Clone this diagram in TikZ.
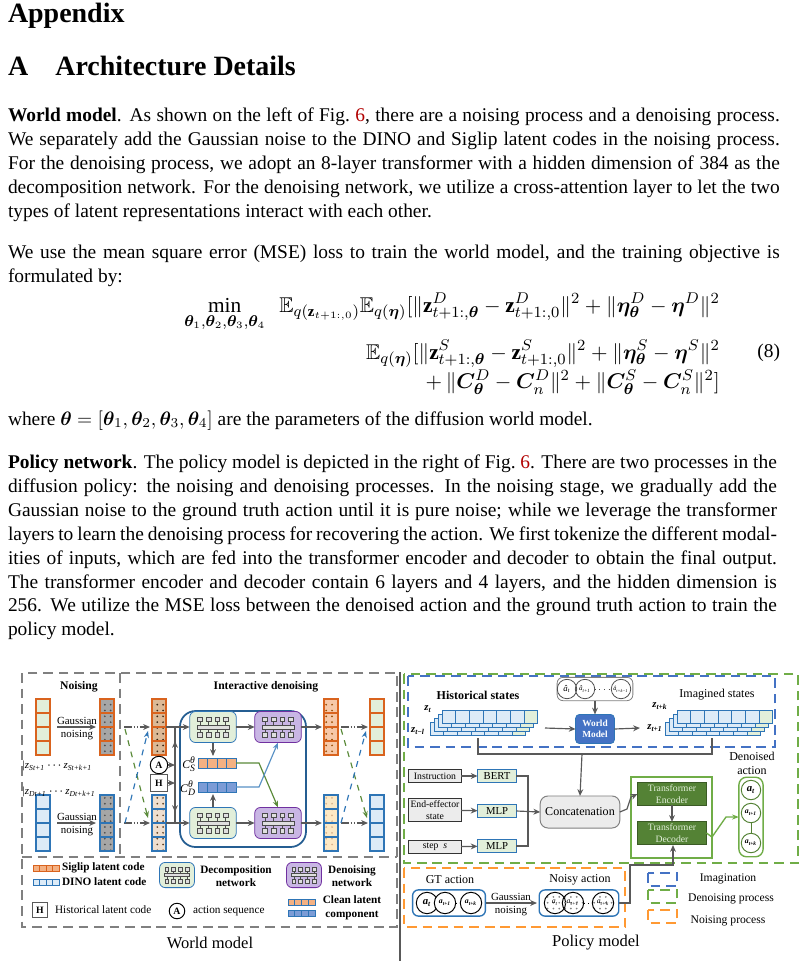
\documentclass[tikz,border=0pt]{standalone}
\usepackage{amsmath,amssymb,bm}
\usepackage{fontspec}
\setmainfont{Liberation Serif}
\usetikzlibrary{arrows.meta,patterns,fit,calc}
\definecolor{sor}{HTML}{D9631E}
\definecolor{sgr}{HTML}{E2EFDA}
\definecolor{dbl}{HTML}{2E75B6}
\definecolor{lbl}{HTML}{DDEBF7}
\definecolor{pur}{HTML}{7030A0}
\definecolor{lpur}{HTML}{C9B6E4}
\definecolor{dgr}{HTML}{548235}
\definecolor{mgr}{HTML}{70AD47}
\definecolor{wmb}{HTML}{4472C4}
\definecolor{orn}{HTML}{F4B183}
\newcommand\wcol[4]{\foreach \k in {0,...,3}{\draw[#4,fill=#3,line width=0.6pt] (#1,{#2+\k*14}) rectangle ++(14,14);}}
\newcommand\dcol[5]{\foreach \k in {0,...,3}{\fill[#3] (#1,{#2+\k*14}) rectangle ++(14,14);\fill[pattern=dots,pattern color=#5] (#1,{#2+\k*14}) rectangle ++(14,14);\draw[#4,line width=0.6pt] (#1,{#2+\k*14}) rectangle ++(14,14);}}
\newcommand\ssb[2]{#1\textsubscript{#2}}
\newcommand\ssp[3]{#1\makebox[0pt][l]{\textsuperscript{#2}}\textsubscript{#3}}
\tikzset{
 every node/.style={inner sep=0pt,outer sep=0pt},
 fig/.style={font=\fontsize{5.6}{6.4}\selectfont},
 arr/.style={-{Stealth[length=3.5pt,width=3pt]},gray!70!black,line width=0.6pt},
 ln/.style={gray!70!black,line width=0.6pt},
 net/.pic={
  \foreach \i in {-1.5,-0.5,0.5,1.5}{
   \draw[gray!60!black,line width=0.35pt] (\i*9,-7) -- (\i*9,7);
   \draw[gray!60!black,fill=gray!25,line width=0.35pt] (\i*9-2.5,-10.5) rectangle ++(5,5);
   \draw[gray!60!black,fill=gray!25,line width=0.35pt] (\i*9-2.5,5.5) rectangle ++(5,5);}
  \draw[gray!60!black,fill=gray!25,line width=0.35pt] (-17,-2) rectangle (17,2);},
 stk/.pic={
  \foreach \l in {3,2,1,0}{
   \foreach \k in {0,...,6}{
    \ifnum\k=6 \def\cc{sgr}\else\def\cc{lbl}\fi
    \draw[dbl,fill=\cc,line width=0.5pt] ({\k*13.7-\l*4},{\l*4}) rectangle ++(13.7,13);}}},
 ac/.style={circle,draw=black,line width=0.5pt,minimum size=11pt,fill=white,font=\fontsize{5.5}{5}\selectfont\bfseries\itshape},
 acs/.style={ac,font=\fontsize{4}{4}\selectfont\bfseries\itshape},
 nac/.style={circle,draw=black,line width=0.5pt,minimum size=11pt,pattern=dots,pattern color=gray,font=\fontsize{4}{4}\selectfont\itshape},
 bt/.style={font=\fontsize{10}{12.3}\selectfont},
}
\begin{document}
\begin{tikzpicture}[x=0.515pt,y=-0.515pt]
\useasboundingbox (0,0) rectangle (806,961);
\fill[white] (0,0) rectangle (806,961);
% ---------- text ----------
\node[anchor=base west,font=\fontsize{14.4}{16}\selectfont\bfseries] (h1) at (8,22) {Appendix};
\node[anchor=base west,font=\fontsize{14.4}{16}\selectfont\bfseries] (h2) at (8,75) {A\hspace{14pt}Architecture Details};
\node[anchor=north west,text width=397.5pt,align=justify,bt] (p1) at (8,108) {\textbf{World model}. As shown on the left of Fig.~\textcolor{red!70!black}{6}, there are a noising process and a denoising process. We separately add the Gaussian noise to the DINO and Siglip latent codes in the noising process. For the denoising process, we adopt an 8-layer transformer with a hidden dimension of 384 as the decomposition network. For the denoising network, we utilize a cross-attention layer to let the two types of latent representations interact with each other.\par\vspace{9pt}
We use the mean square error (MSE) loss to train the world model, and the training objective is formulated by:};
\node[anchor=north,font=\fontsize{11}{12}\selectfont] (eq) at (452,293) {$\begin{aligned}
\min_{\bm\theta_1,\bm\theta_2,\bm\theta_3,\bm\theta_4}\ \ \mathbb{E}_{q(\mathbf z_{t+1:,0})}\mathbb{E}_{q(\bm\eta)}[\|\mathbf z^D_{t+1:,\bm\theta}-\mathbf z^D_{t+1:,0}\|^2+\|\bm\eta^D_{\bm\theta}-\bm\eta^D\|^2&\\[0pt]
\mathbb{E}_{q(\bm\eta)}[\|\mathbf z^S_{t+1:,\bm\theta}-\mathbf z^S_{t+1:,0}\|^2+\|\bm\eta^S_{\bm\theta}-\bm\eta^S\|^2&\\[-3pt]
+\,\|\bm C^D_{\bm\theta}-\bm C^D_n\|^2+\|\bm C^S_{\bm\theta}-\bm C^S_n\|^2]&
\end{aligned}$};
\node[anchor=base east,bt] (tag) at (780,357) {(8)};
\node[anchor=base west,bt] (wh) at (8,425) {where $\bm\theta=[\bm\theta_1,\bm\theta_2,\bm\theta_3,\bm\theta_4]$ are the parameters of the diffusion world model.};
\node[anchor=north west,text width=396pt,align=justify,bt] (p3) at (8,455) {\textbf{Policy network}. The policy model is depicted in the right of Fig.~\textcolor{red!70!black}{6}. There are two processes in the diffusion policy: the noising and denoising processes. In the noising stage, we gradually add the Gaussian noise to the ground truth action until it is pure noise; while we leverage the transformer layers to learn the denoising process for recovering the action. We first tokenize the different modal\-ities of inputs, which are fed into the transformer encoder and decoder to obtain the final output.\linebreak The transformer encoder and decoder contain 6 layers and 4 layers, and the hidden dimension is 256. We utilize the MSE loss between the denoised action and the ground truth action to train the policy model.};
% ---------- world model ----------
\begin{scope}[fig]
\draw[gray,line width=0.6pt,dash pattern=on 5pt off 3pt] (22,673) rectangle (397,927);
\draw[gray,line width=0.6pt,dash pattern=on 5pt off 3pt] (22,857) -- (397,857);
\draw[gray,line width=0.6pt,dash pattern=on 5pt off 3pt] (120,673) -- (120,857);
\draw[gray!70!black,line width=0.8pt] (400,672) -- (400,961);
\node[font=\fontsize{6}{7}\selectfont\bfseries] (tn) at (79,687) {Noising};
\node[font=\fontsize{6}{7}\selectfont\bfseries] (ti) at (266,687) {Interactive denoising};
\wcol{36}{699}{sgr}{sor}
\wcol{36}{795}{lbl}{dbl}
\dcol{100}{699}{gray!70}{sor}{black!70}
\dcol{100}{795}{gray!70}{dbl}{black!70}
\coordinate (g1a) at (57,727); \coordinate (g1b) at (96,727);
\coordinate (g2a) at (57,823); \coordinate (g2b) at (96,823);
\draw[arr] (g1a) -- (g1b); \draw[arr] (g2a) -- (g2b);
\node[anchor=south,font=\fontsize{5.6}{6.6}\selectfont] (gn1) at (77,725) {Gaussian};
\node[anchor=north,font=\fontsize{5.6}{6.6}\selectfont] (gn1b) at (77,730) {noising};
\node[anchor=south,font=\fontsize{5.6}{6.6}\selectfont] (gn2) at (77,821) {Gaussian};
\node[anchor=north,font=\fontsize{5.6}{6.6}\selectfont] (gn2b) at (77,826) {noising};
\node[anchor=west,font=\fontsize{5.6}{6}\selectfont\itshape] (zs) at (22,766) {|\ssb{z}{St+1}\,$\cdot\!\cdot\!\cdot$\,\ssb{z}{St+k+1}};
\node[anchor=west,font=\fontsize{5.6}{6}\selectfont\itshape] (zd) at (22,792) {|\ssb{z}{Dt+1}\,$\cdot\!\cdot\!\cdot$\,\ssb{z}{Dt+k+1}};
\dcol{152}{699}{brown!55}{sor}{brown!30!black}
\dcol{152}{795}{brown!25}{dbl}{brown!50!black}
\node[circle,draw=black,line width=0.5pt,fill=white,minimum size=9pt,font=\fontsize{5}{5}\selectfont\bfseries] (A) at (159,765) {A};
\node[draw=gray!70!black,fill=white,minimum size=9pt,font=\fontsize{5}{5}\selectfont\bfseries] (H) at (159,783) {H};
\draw[ln,dash pattern=on 4pt off 1pt on 0.6pt off 1pt on 0.6pt off 1pt] (124,727) -- (146,727);\draw[arr] (143,727)--(150,727);
\draw[ln,dash pattern=on 4pt off 1pt on 0.6pt off 1pt on 0.6pt off 1pt] (124,823) -- (146,823);\draw[arr] (143,823)--(150,823);
\draw[-{Stealth[length=3.5pt]},mgr!80!black,dashed,line width=0.6pt] (125,729) -- (148,818);
\draw[-{Stealth[length=3.5pt]},dbl,dashed,line width=0.6pt] (125,823) -- (148,731);
\draw[dbl!80!black,line width=0.9pt,rounded corners=8pt] (180,711) rectangle (306,847);
\node[draw=dbl,fill=sgr,rounded corners=3pt,minimum width=24pt,minimum height=16pt] (d1) at (213,727) {};
\node[draw=pur,fill=lpur,rounded corners=3pt,minimum width=24pt,minimum height=16pt] (n1) at (278,727) {};
\node[draw=dbl,fill=sgr,rounded corners=3pt,minimum width=24pt,minimum height=16pt] (d2) at (213,823) {};
\node[draw=pur,fill=lpur,rounded corners=3pt,minimum width=24pt,minimum height=16pt] (n2) at (278,823) {};
\foreach \p in {d1,n1,d2,n2}{\pic[scale=0.95] at (\p) {net};}
\draw[arr] (166,727) -- (d1.west); \draw[arr] (166,823) -- (d2.west);
\draw[arr] (d1.east) -- (n1.west); \draw[arr] (d2.east) -- (n2.west);
\draw[arr] (n1.east) -- (322,727); \draw[arr] (n2.east) -- (322,823);
\draw[arr] (175,780) -- (175,741); \draw[arr] (175,775) -- (175,812);
\draw[ln] (175,727) -- (175,823);
\draw[arr] (A.east) -- (175,765); \draw[arr] (H.east) -- (175,783);
\node[anchor=east,font=\fontsize{6}{6}\selectfont\itshape] (cs) at (196,764) {\ssp{C}{θ}{S}};
\node[anchor=east,font=\fontsize{6}{6}\selectfont\itshape] (cd) at (196,788) {\ssp{C}{θ}{D}};
\foreach \k in {0,...,3}{\draw[dbl,fill=orn,line width=0.5pt] ({198+\k*9.6},758) rectangle ++(9.6,10);
 \draw[dbl,fill=wmb!70,line width=0.5pt] ({198+\k*9.6},782) rectangle ++(9.6,10);}
\coordinate (csr) at (236,763); \coordinate (cdr) at (236,787);
\draw[arr] (d1.south) -- (213,756); \draw[arr] (d2.north) -- (213,794);
\draw[-{Stealth[length=3.5pt]},mgr!80!black,line width=0.6pt] (csr) -- (259,763) -- (n2.north);
\draw[-{Stealth[length=3.5pt]},dbl!80,line width=0.6pt] (cdr) -- (259,787) -- (n1.south);
\dcol{324}{699}{orn!70}{sor}{orange!60!black}
\dcol{324}{795}{yellow!20!orange!20}{dbl}{brown!60}
\wcol{370}{699}{sgr}{sor}
\wcol{370}{795}{lbl}{dbl}
\draw[ln,dash pattern=on 4pt off 1pt on 0.6pt off 1pt on 0.6pt off 1pt] (341,727) -- (364,727);\draw[arr] (360,727)--(368,727);
\draw[ln,dash pattern=on 4pt off 1pt on 0.6pt off 1pt on 0.6pt off 1pt] (341,823) -- (364,823);\draw[arr] (360,823)--(368,823);
\draw[-{Stealth[length=3.5pt]},mgr!80!black,dashed,line width=0.6pt] (341,729) -- (367,818);
\draw[-{Stealth[length=3.5pt]},dbl,dashed,line width=0.6pt] (341,823) -- (366,731);
% legend
\foreach \k in {0,...,3}{\draw[sor,fill=orn,line width=0.5pt] ({33+\k*6.5},865) rectangle ++(6.5,6);
 \draw[dbl,fill=lbl,line width=0.5pt] ({33+\k*6.5},879) rectangle ++(6.5,6);}
\node[anchor=west,font=\fontsize{5.8}{6}\selectfont\bfseries] (l1) at (62,868) {Siglip latent code};
\node[anchor=west,font=\fontsize{5.8}{6}\selectfont\bfseries] (l2) at (62,882) {DINO latent code};
\node[draw=dbl,fill=sgr,rounded corners=3pt,minimum width=18pt,minimum height=13pt] (ld) at (177,875) {};
\pic[scale=0.75] at (ld) {net};
\node[align=center,font=\fontsize{5.8}{7}\selectfont\bfseries] (ldt) at (236,876) {Decomposition\\network};
\node[draw=pur,fill=lpur,rounded corners=3pt,minimum width=18pt,minimum height=13pt] (ln) at (304,875) {};
\pic[scale=0.75] at (ln) {net};
\node[align=center,font=\fontsize{5.8}{7}\selectfont\bfseries] (lnt) at (352,876) {Denoising\\network};
\node[draw=gray!70!black,fill=white,minimum size=8pt,font=\fontsize{5}{5}\selectfont\bfseries] (lH) at (40,910) {H};
\node[anchor=west,font=\fontsize{5.8}{6}\selectfont] (lHt) at (55,910) {Historical latent code};
\node[circle,draw=black,line width=0.5pt,minimum size=8pt,font=\fontsize{5}{5}\selectfont\bfseries] (lA) at (177,911) {A};
\node[anchor=west,font=\fontsize{5.8}{6}\selectfont] (lAt) at (193,911) {action sequence};
\foreach \k in {0,...,3}{\draw[dbl,fill=orn,line width=0.5pt] ({288+\k*6.8},899) rectangle ++(6.8,6);
 \draw[dbl,fill=wmb!70,line width=0.5pt] ({288+\k*6.8},910) rectangle ++(6.8,6);}
\node[align=center,font=\fontsize{5.8}{7}\selectfont\bfseries] (lc) at (352,908) {Clean latent\\component};
\node[font=\fontsize{8.5}{9}\selectfont] (wm) at (210,943) {World model};
\end{scope}
% ---------- policy model ----------
\begin{scope}[fig]
\draw[mgr,line width=0.7pt,dash pattern=on 5pt off 3pt] (404,674) rectangle (798,863);
\draw[wmb,line width=0.7pt,dash pattern=on 5pt off 3pt] (408,676) rectangle (775,747);
\draw[orange!80,line width=0.7pt,dash pattern=on 5pt off 3pt] (404,868) rectangle (625,927);
\node[font=\fontsize{6.2}{7}\selectfont\bfseries] (hs) at (478,695) {Historical states};
\node[font=\fontsize{6.2}{7}\selectfont] (is) at (717,695) {Imagined states};
\pic at (442,710) {stk};
\pic at (677,710) {stk};
\node[font=\fontsize{5.5}{6}\selectfont\bfseries\itshape] (zt) at (428,709) {\ssb{z}{t}};
\node[font=\fontsize{5.5}{6}\selectfont\bfseries\itshape] (zl) at (418,731) {\ssb{z}{t−l}};
\node[font=\fontsize{5.5}{6}\selectfont\bfseries\itshape] (zk) at (660,706) {\ssb{z}{t+k}};
\node[font=\fontsize{5.5}{6}\selectfont\bfseries\itshape] (z1) at (655,728) {\ssb{z}{t+1}};
\node[draw=gray,fill=white,rounded corners=3pt,minimum width=39pt,minimum height=12pt] (ab) at (595,689) {};
\node[circle,draw=black!70,line width=0.4pt,minimum size=10pt,font=\fontsize{4.5}{4}\selectfont\itshape] (h1c) at (567,689) {\^a\textsubscript{t}};
\node[circle,draw=black!70,line width=0.4pt,minimum size=10pt,font=\fontsize{3.6}{4}\selectfont\itshape] (h2c) at (585,689) {\^a\textsubscript{t+1}};
\node[circle,draw=black!70,line width=0.4pt,minimum size=10pt,font=\fontsize{3.2}{4}\selectfont\itshape] (h3c) at (621,689) {\^a\textsubscript{t+k−1}};
\draw[black!70,line width=0.4pt,dotted] (h2c) -- (h3c);
\node[draw=dbl,fill=wmb,rounded corners=2pt,minimum width=20pt,minimum height=15pt,align=center,text=white,font=\fontsize{4.8}{5.5}\selectfont\bfseries] (wmod) at (595,729) {World\\Model};
\draw[arr] (ab.south) -- (wmod.north);
\draw[arr] (545,728) -- (wmod.west);
\draw[arr] (wmod.east) -- (640,728);
\node[draw=black!80,fill=gray!15,line width=0.5pt,minimum width=27pt,minimum height=6.5pt,font=\fontsize{5}{5}\selectfont] (ins) at (435,776) {Instruction};
\node[draw=black!80,fill=gray!15,line width=0.5pt,minimum width=27pt,minimum height=12pt,align=center,font=\fontsize{5}{6}\selectfont] (ee) at (435,810) {End-effector\\state};
\node[draw=black!80,fill=gray!15,line width=0.5pt,minimum width=27pt,minimum height=6.5pt,font=\fontsize{5}{5}\selectfont] (st) at (435,847) {step\ \ \textit{s}};
\node[draw=dbl,fill=sgr,line width=0.5pt,minimum width=20pt,minimum height=7pt,font=\fontsize{5.5}{5}\selectfont] (bert) at (497,776) {BERT};
\node[draw=dbl,fill=sgr,line width=0.5pt,minimum width=20pt,minimum height=7pt,font=\fontsize{5.5}{5}\selectfont] (mlp1) at (497,811) {MLP};
\node[draw=dbl,fill=sgr,line width=0.5pt,minimum width=20pt,minimum height=7pt,font=\fontsize{5.5}{5}\selectfont] (mlp2) at (497,846) {MLP};
\draw[arr] (ins) -- (bert); \draw[arr] (ee) -- (mlp1); \draw[arr] (st) -- (mlp2);
\node[draw=gray,fill=gray!15,rounded corners=4pt,line width=0.5pt,minimum width=41pt,minimum height=16.5pt,font=\fontsize{6.2}{7}\selectfont] (cat) at (580,812) {Concatenation};
\draw[ln] (bert.east) -- (528,776) -- (528,846) -- (mlp2.east);
\draw[arr] (mlp1.east) -- (cat.west);
\draw[ln] (478,738) -- (478,754) -- (712,754) -- (712,738);
\draw[arr] (582,754) -- (cat.north);
\draw[mgr,line width=0.7pt] (631,777) rectangle (712,858);
\node[draw=dgr!70!black,fill=dgr,line width=0.5pt,minimum width=35.5pt,minimum height=11.5pt,align=center,text=sgr,font=\fontsize{5}{5.8}\selectfont] (enc) at (672,794) {Transformer\\Encoder};
\node[draw=dgr!70!black,fill=dgr,line width=0.5pt,minimum width=35.5pt,minimum height=11.5pt,align=center,text=sgr,font=\fontsize{5}{5.8}\selectfont] (dec) at (672,833) {Transformer\\Decoder};
\draw[arr] (enc) -- (dec);
\draw[arr] (cat.east) -- (627,809) -- (631,797) -- (enc.west);
\node[align=center,font=\fontsize{6.2}{7.2}\selectfont] (dat) at (752,763) {Denoised\\action};
\node[draw=mgr,line width=0.7pt,rounded corners=4pt,minimum width=12.5pt,minimum height=41pt] (dbox) at (751,817) {};
\node[ac,draw=dgr,minimum size=10pt] (o1) at (751,790) {\ssb{a}{t}};
\node[acs,draw=dgr,minimum size=10pt] (o2) at (751,813) {\ssb{a}{t+1}};
\node[acs,draw=dgr,minimum size=10pt] (o3) at (751,843) {\ssb{a}{t+k}};
\draw[dgr,line width=0.4pt] (o2) -- (o3);
\draw[-{Stealth[length=3.5pt]},mgr,line width=0.7pt] (dec.east) -- (712,837) -- (726,817) -- (dbox.west);
\node[font=\fontsize{6.2}{7}\selectfont] (gta) at (450,880) {GT action};
\node[font=\fontsize{6.2}{7}\selectfont] (nya) at (580,880) {Noisy action};
\node[draw=dbl,line width=0.7pt,rounded corners=3pt,minimum width=37.5pt,minimum height=13.5pt] (gtb) at (449,903) {};
\node[ac] (g1) at (427,903) {\ssb{a}{t}};
\node[acs] (g2) at (445,903) {\ssb{a}{t+1}};
\node[acs] (g3) at (471,903) {\ssb{a}{t+k}};
\draw[black,line width=0.4pt,dotted] (g2) -- (g3);
\draw[arr] (486,903) -- (537,903);
\node[anchor=south,font=\fontsize{5.6}{6.6}\selectfont] (gn3) at (511,901) {Gaussian};
\node[anchor=north,font=\fontsize{5.6}{6.6}\selectfont] (gn3b) at (511,906) {noising};
\node[draw=dbl,line width=0.7pt,rounded corners=3pt,minimum width=41pt,minimum height=13.5pt] (nyb) at (579,903) {};
\node[nac] (n1c) at (555,903) {\ssb{a}{t}};
\node[nac] (n2c) at (573,903) {\ssb{a}{t+1}};
\node[nac] (n3c) at (603,903) {\ssb{a}{t+k}};
\draw[black,line width=0.4pt,dotted] (n2c) -- (n3c);
\draw[arr] (nyb.east) -- (630,903) -- (630,865) -- (673,865) -- (673,845);
\draw[wmb,line width=0.7pt,dash pattern=on 5pt off 3pt] (648,873) rectangle (677,886);
\draw[mgr,line width=0.7pt,dash pattern=on 5pt off 3pt] (648,890) rectangle (677,903);
\draw[orange!80,line width=0.7pt,dash pattern=on 5pt off 3pt] (648,910) rectangle (677,923);
\node[font=\fontsize{6}{7}\selectfont] (lg1) at (728,879) {Imagination};
\node[font=\fontsize{6}{7}\selectfont] (lg2) at (731,899) {Denoising process};
\node[font=\fontsize{6}{7}\selectfont] (lg3) at (728,921) {Noising process};
\node[font=\fontsize{8.5}{9}\selectfont] (pm) at (596,943) {Policy model};
\end{scope}
\end{tikzpicture}
\end{document}
